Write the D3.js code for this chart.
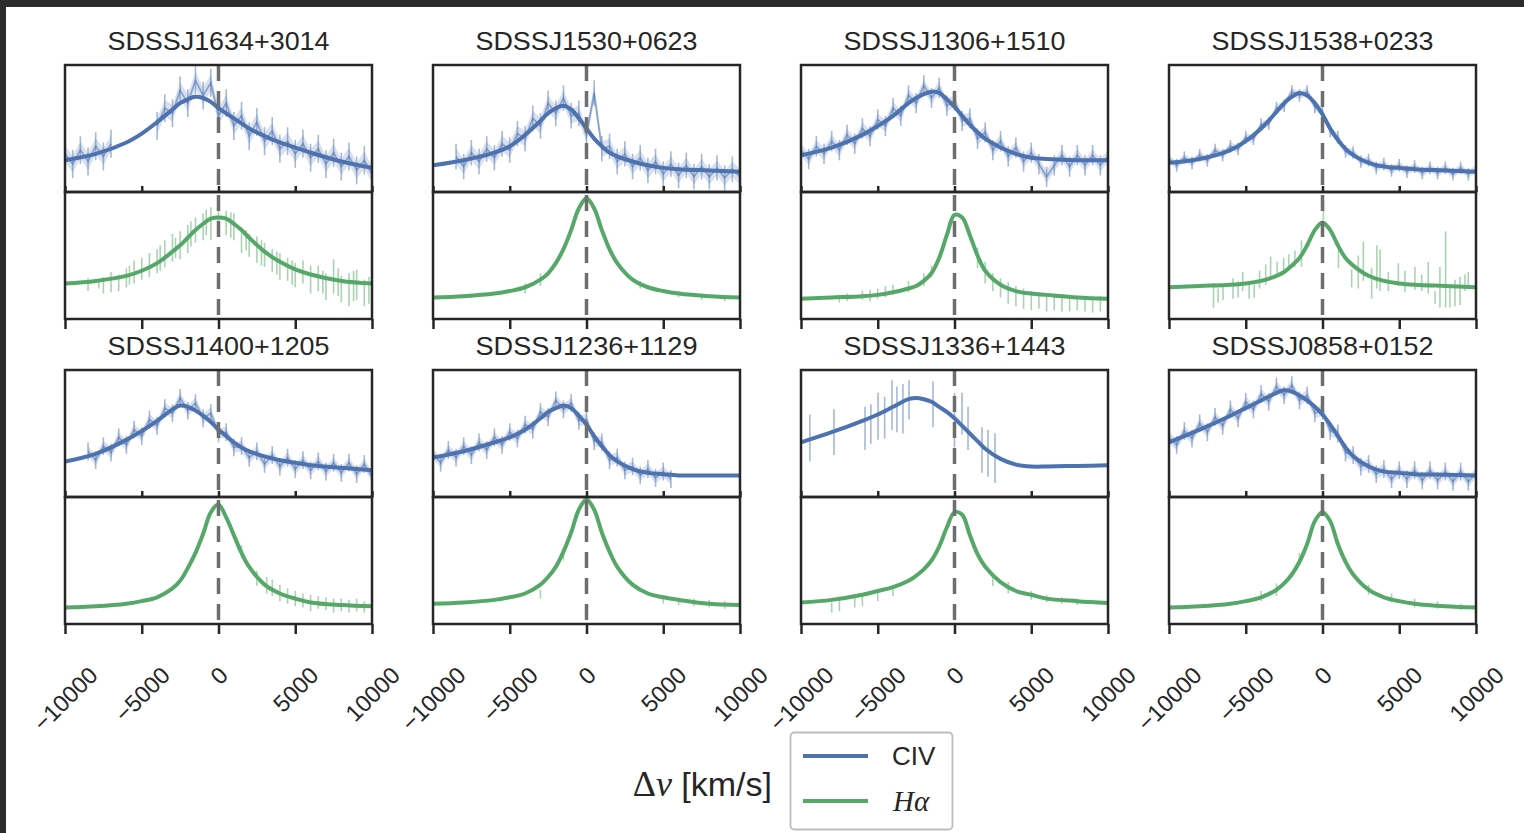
<!DOCTYPE html>
<html>
<head>
<meta charset="utf-8">
<script src="https://cdn.jsdelivr.net/npm/d3@7"></script>
<style>
  body { margin: 0; background: #fff; }
  svg { display: block; font-family: "Liberation Sans", Arial, sans-serif; }
</style>
</head>
<body>
<svg id="fig" width="1524" height="833"></svg>
<script>
// object names, one per column/row panel
const names = ["SDSSJ1634+3014", "SDSSJ1530+0623", "SDSSJ1306+1510", "SDSSJ1538+0233",
               "SDSSJ1400+1205", "SDSSJ1236+1129", "SDSSJ1336+1443", "SDSSJ0858+0152"];

const xTicks = [-10000, -5000, 0, 5000, 10000];

// velocity grid of the fitted profiles (km/s)
const vGrid = [-10000, -8000, -6000, -5000, -4000, -3000, -2500, -2000, -1500, -1000, -500,
               0, 500, 1000, 1500, 2000, 3000, 4000, 5000, 6000, 8000, 10000];

// fitted CIV profiles (normalised flux, 0 = bottom of the sub-panel, 1 = top)
const civFit = [
  [.25,.30,.39,.46,.55,.65,.70,.73,.75,.74,.71,.66,.62,.58,.54,.50,.44,.39,.35,.31,.24,.19],
  [.21,.25,.31,.36,.45,.56,.62,.66,.68,.65,.58,.50,.42,.36,.31,.28,.24,.21,.19,.18,.17,.16],
  [.29,.35,.45,.52,.60,.70,.74,.77,.79,.78,.73,.67,.60,.53,.47,.42,.35,.30,.27,.26,.25,.25],
  [.23,.26,.33,.40,.50,.63,.70,.75,.78,.76,.70,.61,.50,.41,.34,.29,.23,.20,.19,.18,.17,.16],
  [.28,.34,.45,.52,.60,.69,.72,.71,.68,.64,.59,.53,.48,.43,.39,.36,.32,.29,.27,.25,.23,.21],
  [.31,.36,.43,.47,.53,.62,.67,.70,.72,.70,.64,.57,.48,.40,.33,.28,.22,.19,.18,.17,.17,.17],
  [.43,.51,.60,.65,.71,.77,.78,.77,.75,.71,.67,.62,.56,.50,.44,.38,.30,.255,.24,.24,.245,.25],
  [.43,.53,.64,.70,.76,.82,.84,.83,.80,.76,.71,.65,.57,.48,.39,.32,.24,.20,.19,.18,.175,.17]
];

// fitted H-alpha profiles
const haFit = [
  [.28,.30,.34,.38,.44,.53,.58,.64,.70,.75,.79,.80,.79,.75,.70,.64,.53,.45,.39,.35,.30,.28],
  [.17,.18,.20,.22,.25,.31,.36,.44,.55,.70,.87,.95,.87,.70,.55,.44,.31,.25,.22,.20,.18,.17],
  [.16,.17,.18,.19,.21,.24,.26,.30,.36,.48,.66,.82,.80,.66,.50,.38,.27,.22,.20,.19,.17,.16],
  [.25,.26,.27,.28,.30,.34,.37,.42,.48,.58,.70,.76,.70,.58,.48,.42,.34,.30,.28,.27,.26,.25],
  [.13,.14,.16,.18,.21,.28,.34,.44,.56,.71,.88,.94,.84,.70,.56,.45,.31,.24,.20,.17,.15,.14],
  [.16,.17,.19,.21,.24,.31,.37,.45,.57,.72,.90,.98,.90,.72,.57,.45,.31,.24,.21,.19,.16,.15],
  [.17,.19,.23,.26,.29,.34,.38,.43,.50,.61,.76,.88,.86,.70,.55,.45,.33,.26,.23,.20,.18,.165],
  [.13,.14,.16,.18,.21,.27,.32,.39,.49,.63,.81,.88,.81,.63,.49,.39,.27,.21,.18,.16,.14,.13]
];

// observed CIV spectra, channel grid (km/s)
const specGrid = [-10000,-9500,-9000,-8500,-8000,-7500,-7000,-6500,-6000,-5500,-5000,-4500,-4000,
  -3500,-3000,-2500,-2000,-1500,-1000,-500,0,500,1000,1500,2000,2500,3000,3500,4000,4500,5000,
  5500,6000,6500,7000,7500,8000,8500,9000,9500,10000];

const civSpec = [
  [.30,.22,.33,.24,.36,.28,.38,null,null,null,null,null,.52,.66,.62,.80,.70,.88,.76,.86,.60,
   .70,.52,.60,.44,.55,.40,.48,.34,.40,.30,.38,.27,.34,.22,.31,.20,.28,.17,.25,.14],
  [null,null,null,.28,.20,.31,.24,.34,.27,.38,.33,.46,.42,.58,.52,.70,.62,.74,.60,.62,.45,
   .78,.34,.36,.24,.30,.20,.27,.17,.24,.14,.22,.13,.21,.12,.20,.12,.19,.11,.18,.12],
  [.33,.26,.36,.30,.40,.33,.45,.38,.50,.44,.57,.52,.66,.60,.76,.70,.84,.74,.82,.68,.72,
   .56,.58,.42,.47,.33,.40,.28,.35,.24,.31,.22,.12,.21,.29,.20,.29,.21,.29,.21,.28],
  [.26,.21,.27,.23,.29,.25,.33,.29,.36,.34,.43,.42,.53,.54,.66,.68,.79,.76,.79,.67,.63,
   .48,.43,.32,.31,.24,.25,.19,.22,.17,.21,.16,.20,.15,.19,.15,.19,.14,.19,.14,.18],
  [null,null,null,.36,.29,.40,.35,.47,.41,.53,.48,.61,.56,.70,.66,.78,.68,.74,.62,.66,.50,
   .51,.39,.40,.31,.36,.26,.33,.24,.31,.22,.29,.21,.28,.20,.27,.19,.27,.18,.26,.16],
  [.34,.27,.37,.31,.40,.33,.43,.37,.47,.41,.51,.46,.57,.53,.67,.63,.76,.69,.74,.60,.61,
   .44,.43,.29,.31,.21,.24,.17,.22,.15,.20,.14,null,null,null,null,null,null,null,null,null],
  null,
  [.47,.41,.52,.46,.58,.51,.63,.56,.69,.62,.75,.69,.81,.75,.87,.80,.88,.76,.80,.66,.68,
   .52,.50,.35,.33,.24,.26,.18,.22,.14,.21,.14,.21,.13,.21,.13,.20,.12,.20,.12,.19]
];
const civErr = [.11, .10, .08, .05, .07, .07, 0, .07];

// sparse CIV points given as [v, low, high]
const civBars = [[], [], [], [], [], [],
  [[-9420,.28,.65],[-7850,.33,.69],[-5830,.37,.71],[-5450,.42,.73],[-4980,.45,.82],[-4550,.46,.79],
   [-4070,.53,.92],[-3750,.51,.87],[-3360,.50,.89],[-2960,.61,.92],[-1400,.55,.91],[0,.39,.82],
   [490,.49,.82],[880,.37,.71],[1790,.19,.55],[2180,.16,.53],[2640,.11,.50]],
  []
];

// observed H-alpha points as [v, low, high]
const haBars = [
  [[-8500,.22,.32],[-7500,.20,.33],[-7000,.21,.37],[-6500,.22,.35],[-6000,.25,.40],[-5500,.28,.46],
   [-5000,.31,.48],[-4500,.33,.52],[-4000,.36,.55],[-3500,.41,.62],[-3000,.45,.67],[-2500,.47,.69],
   [-2000,.52,.74],[-1500,.60,.80],[-1000,.62,.83],[-500,.62,.88],[0,.72,.90],[500,.66,.85],
   [1000,.62,.83],[1500,.52,.72],[2000,.49,.67],[2500,.44,.65],[3000,.41,.60],[3500,.37,.55],
   [4000,.31,.52],[4500,.30,.48],[5000,.25,.44],[5500,.28,.46],[6000,.20,.42],[6500,.22,.42],
   [7000,.15,.36],[7500,.20,.47],[8000,.13,.34],[8500,.10,.36],[9000,.15,.39],[9500,.10,.31],
   [10000,.10,.46],[-7800,.24,.31],[-5800,.27,.42],[-3800,.38,.58],[-2800,.48,.64],[-1800,.57,.77],
   [-800,.66,.86],[800,.64,.84],[1800,.54,.70],[2800,.42,.62],[3800,.35,.53],[4800,.27,.46],
   [6800,.20,.38],[7800,.18,.40],[8800,.14,.38],[9800,.12,.33]],
  [[-4000,.20,.28],[-3000,.26,.36],[3500,.24,.30],[6000,.17,.22],[7500,.15,.20],[9000,.14,.19]],
  [[-7500,.13,.19],[-7000,.14,.20],[-6000,.15,.22],[-5500,.14,.23],[-5000,.16,.24],[-4500,.17,.26],
   [-4000,.19,.27],[-3000,.21,.30],[-2000,.26,.36],[-1500,.33,.42],[1500,.40,.56],[2000,.28,.45],
   [2500,.22,.36],[3000,.17,.32],[3500,.12,.29],[4000,.10,.26],[4500,.08,.24],[5000,.07,.22],
   [5500,.08,.21],[6000,.06,.20],[6500,.07,.20],[7000,.06,.19],[7500,.06,.19],[8000,.07,.18],
   [8500,.06,.18],[9000,.05,.18],[9500,.06,.18]],
  [[-7100,.09,.28],[-6800,.13,.24],[-6480,.15,.27],[-5830,.16,.32],[-5500,.17,.30],[-5200,.22,.37],
   [-4780,.16,.29],[-4450,.17,.27],[-4100,.24,.38],[-3700,.27,.43],[-3380,.33,.49],[-2950,.34,.45],
   [-2530,.36,.48],[-2200,.38,.51],[-1800,.41,.54],[-1370,.41,.62],[60,.78,.94],[1040,.40,.54],
   [1900,.25,.39],[2330,.24,.50],[2660,.30,.61],[3200,.16,.40],[3540,.24,.58],[3750,.22,.55],
   [4290,.22,.37],[4940,.26,.44],[5370,.21,.38],[6020,.23,.41],[6460,.22,.35],[6890,.20,.45],
   [7330,.12,.22],[7650,.09,.41],[8020,.09,.69],[8300,.09,.26],[8630,.10,.31],[8960,.11,.33],
   [9280,.22,.35],[9500,.26,.37]],
  [[1500,.52,.62],[2500,.30,.42],[3140,.24,.37],[3500,.22,.35],[4000,.18,.31],[4500,.16,.28],
   [5000,.14,.26],[5500,.13,.24],[6000,.10,.23],[6500,.12,.22],[7000,.11,.21],[7500,.09,.20],
   [8000,.10,.20],[8500,.09,.19],[9000,.10,.20],[9500,.09,.18],[10000,.08,.19]],
  [[-3000,.20,.27],[-1500,.50,.60],[5000,.16,.22],[6000,.15,.21],[7000,.14,.20],[8000,.13,.19],
   [9000,.12,.18]],
  [[-8000,.09,.17],[-7500,.10,.19],[-6500,.13,.22],[-6000,.14,.24],[-5000,.18,.27],[-4000,.22,.31],
   [2500,.30,.40],[3500,.24,.33],[5000,.19,.26],[6000,.17,.23],[7000,.16,.21],[8000,.15,.20]],
  [[-4000,.18,.26],[-3000,.22,.32],[-1500,.46,.56],[3000,.23,.31],[4500,.17,.24],[6000,.13,.20],
   [7500,.12,.18],[9000,.11,.16]]
];

// ---------------------------------------------------------------------------
const blue = "#4C72B0", green = "#55A868", ink = "#262626";
const colX = [65, 433, 801, 1169], rowY = [65, 370];
const pw = 307, ph = 127;
const labelTop = 665, tickFont = 23.5;
const serif = '"Liberation Serif", "Times New Roman", serif';

const svg = d3.select("#fig");
const defs = svg.append("defs");

// dark screenshot frame on top and left
svg.append("rect").attr("x", 0).attr("y", 0).attr("width", 1524).attr("height", 7).attr("fill", "#2b2b2b");
svg.append("rect").attr("x", 0).attr("y", 0).attr("width", 6).attr("height", 833).attr("fill", "#2b2b2b");

const smooth = d3.curveCatmullRom.alpha(0.5);

names.forEach((name, i) => {
  const col = i % 4, row = Math.floor(i / 4);
  const x0 = colX[col], y0 = rowY[row];
  const x = d3.scaleLinear().domain([-10000, 10000]).range([x0, x0 + pw]);
  const yU = d3.scaleLinear().domain([0, 1]).range([y0 + ph, y0]);
  const yL = d3.scaleLinear().domain([0, 1]).range([y0 + 2 * ph, y0 + ph]);

  const g = svg.append("g");

  [["u", y0], ["l", y0 + ph]].forEach(([k, top]) => {
    defs.append("clipPath").attr("id", `c${i}${k}`)
      .append("rect").attr("x", x0).attr("y", top).attr("width", pw).attr("height", ph);
  });

  // ---- upper: CIV ----
  const up = g.append("g").attr("clip-path", `url(#c${i}u)`);
  const spec = civSpec[i];
  if (spec) {
    const e = civErr[i];
    const pts = specGrid.map((v, j) => [v, spec[j]]);
    up.append("path")
      .datum(pts)
      .attr("fill", blue).attr("fill-opacity", 0.22)
      .attr("d", d3.area().defined(d => d[1] != null)
        .x(d => x(d[0])).y0(d => yU(d[1] - e * 0.6)).y1(d => yU(d[1] + e * 0.6)));
    up.append("path")
      .datum(pts)
      .attr("fill", "none").attr("stroke", blue).attr("stroke-opacity", 0.55).attr("stroke-width", 1.8)
      .attr("d", d3.line().defined(d => d[1] != null).x(d => x(d[0])).y(d => yU(d[1])));
    up.selectAll("line.err").data(pts.filter(d => d[1] != null)).join("line")
      .attr("x1", d => x(d[0])).attr("x2", d => x(d[0]))
      .attr("y1", d => yU(d[1] - e)).attr("y2", d => yU(d[1] + e))
      .attr("stroke", blue).attr("stroke-opacity", 0.5).attr("stroke-width", 1.6);
  }
  up.selectAll("line.bar").data(civBars[i]).join("line")
    .attr("x1", d => x(d[0])).attr("x2", d => x(d[0]))
    .attr("y1", d => yU(d[1])).attr("y2", d => yU(d[2]))
    .attr("stroke", blue).attr("stroke-opacity", 0.5).attr("stroke-width", 1.6);
  up.append("path")
    .datum(vGrid.map((v, j) => [v, civFit[i][j]]))
    .attr("fill", "none").attr("stroke", blue).attr("stroke-width", 4)
    .attr("d", d3.line().curve(smooth).x(d => x(d[0])).y(d => yU(d[1])));

  // ---- lower: H-alpha ----
  const lo = g.append("g").attr("clip-path", `url(#c${i}l)`);
  lo.selectAll("line.bar").data(haBars[i]).join("line")
    .attr("x1", d => x(d[0])).attr("x2", d => x(d[0]))
    .attr("y1", d => yL(d[1])).attr("y2", d => yL(d[2]))
    .attr("stroke", green).attr("stroke-opacity", 0.5).attr("stroke-width", 1.6);
  lo.append("path")
    .datum(vGrid.map((v, j) => [v, haFit[i][j]]))
    .attr("fill", "none").attr("stroke", green).attr("stroke-width", 4)
    .attr("d", d3.line().curve(smooth).x(d => x(d[0])).y(d => yL(d[1])));

  // zero-velocity dashed line
  g.append("line")
    .attr("x1", x(0)).attr("x2", x(0)).attr("y1", y0).attr("y2", y0 + 2 * ph)
    .attr("stroke", "#6e6e6e").attr("stroke-width", 3.5).attr("stroke-dasharray", "16,10");

  // inner ticks on the divider
  const mid = g.append("g").attr("transform", `translate(0,${y0 + ph})`)
    .call(d3.axisBottom(x).tickValues(xTicks).tickSize(-6).tickFormat(""));
  mid.select(".domain").remove();
  mid.selectAll(".tick line").attr("stroke", ink).attr("stroke-width", 2.5);

  // bottom axis
  const ax = g.append("g").attr("transform", `translate(0,${y0 + 2 * ph})`)
    .call(d3.axisBottom(x).tickValues(xTicks).tickSize(10)
      .tickFormat(row === 1 ? d3.format("d") : ""));
  ax.select(".domain").remove();
  ax.selectAll(".tick line").attr("stroke", ink).attr("stroke-width", 2.5);
  if (row === 1) {
    ax.selectAll(".tick text")
      .attr("fill", ink).attr("font-size", tickFont)
      .attr("font-family", '"Liberation Sans", Arial, sans-serif')
      .attr("text-anchor", "middle").attr("dy", "0.35em").attr("y", 0)
      .each(function () {
        const w = this.getComputedTextLength();
        const yc = (labelTop - (y0 + 2 * ph)) + (w + tickFont * 0.72) * 0.7071 / 2;
        d3.select(this).attr("transform", `translate(0,${yc}) rotate(-45)`);
      });
  }

  // frames
  [y0, y0 + ph].forEach(top => {
    g.append("rect").attr("x", x0).attr("y", top).attr("width", pw).attr("height", ph)
      .attr("fill", "none").attr("stroke", ink).attr("stroke-width", 2.5);
  });

  // title
  g.append("text")
    .attr("x", x0 + pw / 2).attr("y", y0 - 15)
    .attr("text-anchor", "middle").attr("font-size", 25).attr("fill", ink)
    .attr("textLength", 222).attr("lengthAdjust", "spacingAndGlyphs")
    .text(name);
});

// x label
const xl = svg.append("text").attr("x", 772).attr("y", 796).attr("text-anchor", "end")
  .attr("font-size", 34).attr("fill", ink);
xl.append("tspan").attr("font-family", serif).attr("font-size", 36).text("Δ");
xl.append("tspan").attr("font-family", serif).attr("font-style", "italic").attr("font-size", 36).text("v");
xl.append("tspan").text(" [km/s]");

// legend
const lg = svg.append("g");
lg.append("rect").attr("x", 790.5).attr("y", 732.5).attr("width", 162).attr("height", 97).attr("rx", 4)
  .attr("fill", "#fff").attr("stroke", "#bdbdbd").attr("stroke-width", 1.8);
const legendItems = [["CIV", blue, 756], ["Hα", green, 801]];
legendItems.forEach(([lab, c, yy]) => {
  lg.append("line").attr("x1", 803).attr("x2", 868).attr("y1", yy).attr("y2", yy)
    .attr("stroke", c).attr("stroke-width", 4);
});
lg.append("text").attr("x", 892).attr("y", 756).attr("dy", "0.36em").attr("font-size", 26)
  .attr("fill", ink).text(legendItems[0][0]);
lg.append("text").attr("x", 893).attr("y", 801).attr("dy", "0.36em").attr("font-size", 29)
  .attr("fill", ink).attr("font-family", serif).attr("font-style", "italic")
  .text(legendItems[1][0]);
</script>
</body>
</html>
